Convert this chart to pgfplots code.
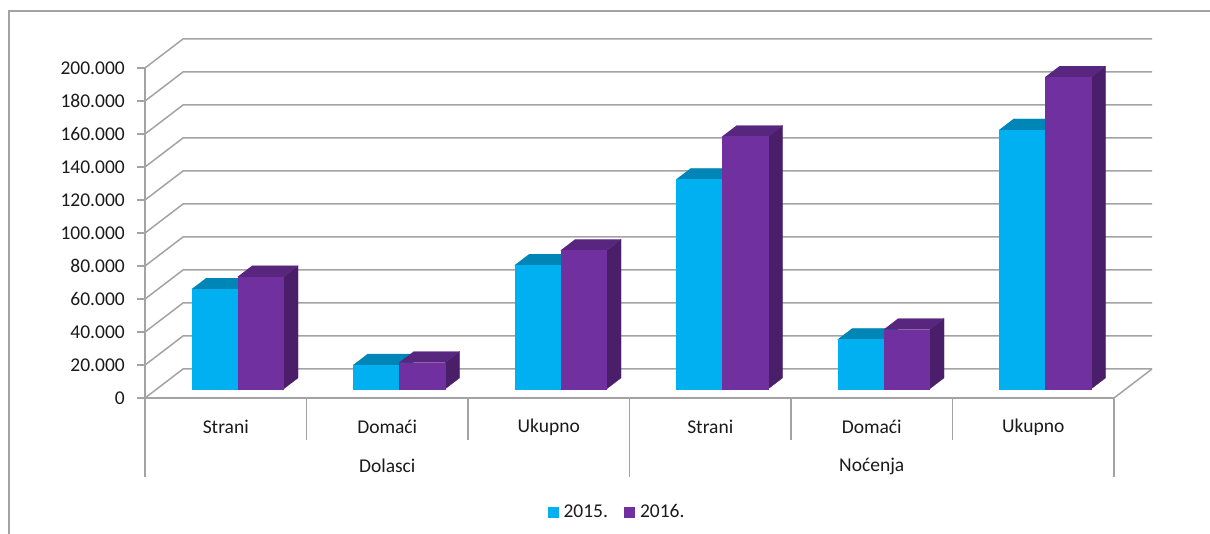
\documentclass[border=0pt]{standalone}
\usepackage{fontspec}
\setmainfont{Carlito}
\usepackage{pgfplots}
\pgfplotsset{compat=1.18}
\usetikzlibrary{calc}
\definecolor{c15}{HTML}{00B0F0}
\definecolor{c15t}{HTML}{0086B6}
\definecolor{c15s}{HTML}{006A90}
\definecolor{c16}{HTML}{7030A0}
\definecolor{c16t}{HTML}{58267E}
\definecolor{c16s}{HTML}{4A1E68}
\definecolor{gridc}{HTML}{A3A3A3}
\definecolor{txt}{HTML}{1A1A1A}

% x0 x1 value front top side
\newcommand{\dbar}[6]{%
 \addplot3[forget plot,fill=#6,draw=#6,line width=0.2pt] coordinates {(#2,0.31,0) (#2,0.69,0) (#2,0.69,#3) (#2,0.31,#3)};
 \addplot3[forget plot,fill=#5,draw=#5,line width=0.2pt] coordinates {(#1,0.31,#3) (#2,0.31,#3) (#2,0.69,#3) (#1,0.69,#3)};
 \addplot3[forget plot,fill=#4,draw=#4,line width=0.2pt] coordinates {(#1,0.31,0) (#2,0.31,0) (#2,0.31,#3) (#1,0.31,#3)};
}

\begin{document}
\begin{tikzpicture}
\fontsize{19.5}{23}\selectfont
\begin{axis}[
 anchor=origin, at={(145pt,136pt)},
 x={(161.5pt,0pt)}, y={(38pt,29pt)}, z={(0pt,1.65pt)},
 xmin=0,xmax=6,ymin=0,ymax=1,zmin=0,zmax=200,
 hide axis, clip=false,
]
\coordinate (O) at (axis cs:0,0,0);
% walls grid
\pgfplotsinvokeforeach{0,20,40,60,80,100,120,140,160,180,200}{
  \draw[gridc, line width=1.5pt] (axis cs:0,0,#1) -- (axis cs:0,1,#1) -- (axis cs:6,1,#1);
  \draw[gridc, line width=1.2pt] (axis cs:0,0,#1) -- ++(-8pt,0pt);
}
% floor
\draw[gridc, line width=1.5pt] (axis cs:6,0,0) -- (axis cs:6,1,0);
% axes
\draw[gridc, line width=1.5pt] (axis cs:0,0,200) -- (axis cs:0,0,0) -- (axis cs:6,0,0);
% category separators
\pgfplotsinvokeforeach{1,2,4,5}{
  \draw[gridc, line width=1.2pt] (axis cs:#1,0,0) -- ++(0pt,-42pt);
}
\pgfplotsinvokeforeach{0,3,6}{
  \draw[gridc, line width=1.2pt] (axis cs:#1,0,0) -- ++(0pt,-79pt);
}
% y tick labels
\node[anchor=east,text=txt,inner sep=0pt] at ([xshift=-20pt]axis cs:0,0,0) {0};
\node[anchor=east,text=txt,inner sep=0pt] at ([xshift=-20pt]axis cs:0,0,20) {20.000};
\node[anchor=east,text=txt,inner sep=0pt] at ([xshift=-20pt]axis cs:0,0,40) {40.000};
\node[anchor=east,text=txt,inner sep=0pt] at ([xshift=-20pt]axis cs:0,0,60) {60.000};
\node[anchor=east,text=txt,inner sep=0pt] at ([xshift=-20pt]axis cs:0,0,80) {80.000};
\node[anchor=east,text=txt,inner sep=0pt] at ([xshift=-20pt]axis cs:0,0,100) {100.000};
\node[anchor=east,text=txt,inner sep=0pt] at ([xshift=-20pt]axis cs:0,0,120) {120.000};
\node[anchor=east,text=txt,inner sep=0pt] at ([xshift=-20pt]axis cs:0,0,140) {140.000};
\node[anchor=east,text=txt,inner sep=0pt] at ([xshift=-20pt]axis cs:0,0,160) {160.000};
\node[anchor=east,text=txt,inner sep=0pt] at ([xshift=-20pt]axis cs:0,0,180) {180.000};
\node[anchor=east,text=txt,inner sep=0pt] at ([xshift=-20pt]axis cs:0,0,200) {200.000};
% category labels
\node[text=txt] at ([yshift=-29pt]axis cs:0.5,0,0) {Strani};
\node[text=txt] at ([yshift=-29pt]axis cs:1.5,0,0) {Domaći};
\node[text=txt] at ([yshift=-29pt]axis cs:2.5,0,0) {Ukupno};
\node[text=txt] at ([yshift=-29pt]axis cs:3.5,0,0) {Strani};
\node[text=txt] at ([yshift=-29pt]axis cs:4.5,0,0) {Domaći};
\node[text=txt] at ([yshift=-29pt]axis cs:5.5,0,0) {Ukupno};
\node[text=txt] at ([yshift=-68pt]axis cs:1.5,0,0) {Dolasci};
\node[text=txt] at ([yshift=-68pt]axis cs:4.5,0,0) {Noćenja};
% bars: Dolasci Strani, Domaci, Ukupno; Nocenja Strani, Domaci, Ukupno (thousands)
\dbar{0.215}{0.5}{60.5}{c15}{c15t}{c15s}
\dbar{0.5}{0.785}{68}{c16}{c16t}{c16s}
\dbar{1.215}{1.5}{14.5}{c15}{c15t}{c15s}
\dbar{1.5}{1.785}{16}{c16}{c16t}{c16s}
\dbar{2.215}{2.5}{75}{c15}{c15t}{c15s}
\dbar{2.5}{2.785}{84}{c16}{c16t}{c16s}
\dbar{3.215}{3.5}{127}{c15}{c15t}{c15s}
\dbar{3.5}{3.785}{153}{c16}{c16t}{c16s}
\dbar{4.215}{4.5}{30}{c15}{c15t}{c15s}
\dbar{4.5}{4.785}{36}{c16}{c16t}{c16s}
\dbar{5.215}{5.5}{157}{c15}{c15t}{c15s}
\dbar{5.5}{5.785}{189}{c16}{c16t}{c16s}
\end{axis}
% legend
\node[text=txt,inner sep=0pt] at ($(O)+(471pt,-113pt)$) {{\color{c15}\rule{11pt}{11pt}}\hspace{5pt}2015.\hspace{16pt}{\color{c16}\rule{11pt}{11pt}}\hspace{5pt}2016.};
% chart frame
\draw[gridc, line width=1.4pt] ($(O)+(-136pt,-140pt)$) -- ($(O)+(-136pt,387pt)$) -- ($(O)+(1070pt,387pt)$);
\pgfresetboundingbox
\path[use as bounding box] ($(O)+(-145pt,-136pt)$) rectangle ($(O)+(1065pt,398pt)$);
\end{tikzpicture}
\end{document}
